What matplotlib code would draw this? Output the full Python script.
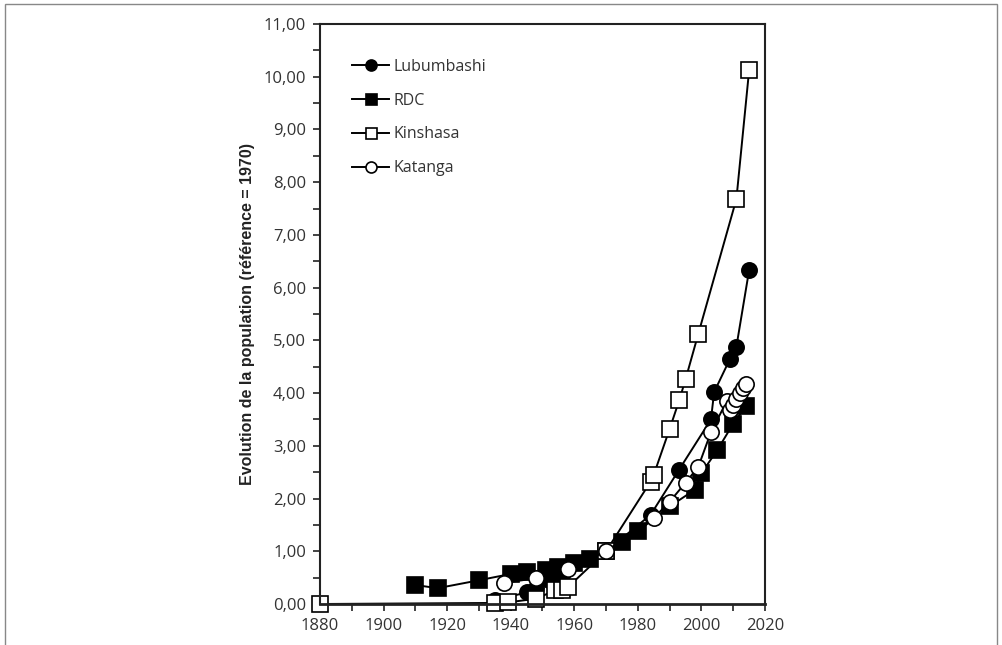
import matplotlib
matplotlib.use("Agg")
import matplotlib.pyplot as plt
from matplotlib.ticker import MultipleLocator, FuncFormatter
from matplotlib.patches import Rectangle

# Données (référence = 1970)
lubumbashi_years = [1935, 1945, 1948, 1952, 1956, 1970, 1984, 1993, 2003, 2004, 2009, 2011, 2015]
lubumbashi_vals = [0.07, 0.22, 0.30, 0.45, 0.55, 1.00, 1.69, 2.55, 3.50, 4.02, 4.65, 4.88, 6.33]

rdc_years = [1910, 1917, 1930, 1940, 1945, 1951, 1955, 1960, 1965, 1970, 1975, 1980, 1990,
             1998, 2000, 2005, 2010, 2014]
rdc_vals = [0.36, 0.30, 0.45, 0.57, 0.61, 0.64, 0.70, 0.77, 0.85, 1.00, 1.17, 1.38, 1.85,
            2.17, 2.48, 2.92, 3.42, 3.75]

kinshasa_years = [1880, 1935, 1939, 1948, 1954, 1956, 1958, 1970, 1984, 1985, 1990, 1993,
                  1995, 1999, 2011, 2015]
kinshasa_vals = [0.00, 0.02, 0.03, 0.10, 0.26, 0.27, 0.32, 1.00, 2.32, 2.45, 3.32, 3.86,
                 4.26, 5.12, 7.68, 10.12]

katanga_years = [1938, 1948, 1958, 1970, 1985, 1990, 1995, 1999, 2003, 2008, 2009, 2010,
                 2011, 2012, 2013, 2014]
katanga_vals = [0.40, 0.49, 0.66, 1.00, 1.63, 1.94, 2.30, 2.60, 3.26, 3.85, 3.68, 3.78,
                3.88, 4.00, 4.10, 4.17]

plt.rcParams["font.family"] = ["Open Sans", "DejaVu Sans"]

fig = plt.figure(figsize=(10.03, 6.45), dpi=100)
ax = fig.add_axes([320 / 1003, 1 - 604 / 645, 445 / 1003, 580 / 645])

# cadre gris autour de l'image
fig.patches.append(Rectangle((5 / 1003, -0.05), 992 / 1003, 1.05 - 4 / 645,
                             transform=fig.transFigure, fill=False,
                             edgecolor="#888888", linewidth=1.0))

style = dict(color="black", linewidth=1.4, markersize=11, markeredgewidth=1.2,
             markeredgecolor="black", clip_on=False)

ax.plot(lubumbashi_years, lubumbashi_vals, marker="o", markerfacecolor="black",
        label="Lubumbashi", **style)
ax.plot(rdc_years, rdc_vals, marker="s", markerfacecolor="black", label="RDC", **style)
ax.plot(kinshasa_years, kinshasa_vals, marker="s", markerfacecolor="white",
        label="Kinshasa", **style)
ax.plot(katanga_years, katanga_vals, marker="o", markerfacecolor="white",
        label="Katanga", **style)

ax.set_xlim(1880, 2020)
ax.set_ylim(0, 11)
ax.xaxis.set_major_locator(MultipleLocator(20))
ax.xaxis.set_minor_locator(MultipleLocator(10))
ax.yaxis.set_major_locator(MultipleLocator(1))
ax.yaxis.set_minor_locator(MultipleLocator(0.5))
ax.yaxis.set_major_formatter(FuncFormatter(lambda v, p: f"{v:.2f}".replace(".", ",")))

ax.tick_params(which="both", direction="out", length=5, width=1.2, color="#222222")
ax.tick_params(which="major", labelsize=12, labelcolor="#333333", pad=5)

for s in ax.spines.values():
    s.set_linewidth(1.5)
    s.set_color("#222222")
ax.spines["bottom"].set_linewidth(2.0)

ax.set_ylabel("Evolution de la population (référence = 1970)", fontsize=11.5,
              fontweight="bold", family=["Liberation Sans", "DejaVu Sans"],
              labelpad=6, color="#222222")

leg = ax.legend(loc="upper left", bbox_to_anchor=(0.04, 0.965), frameon=False,
                prop={"size": 11.5}, handlelength=2.3, handletextpad=0.28,
                labelspacing=1.12, markerscale=0.72)
for t in leg.get_texts():
    t.set_color("#333333")

fig.savefig("out.png", dpi=100)
